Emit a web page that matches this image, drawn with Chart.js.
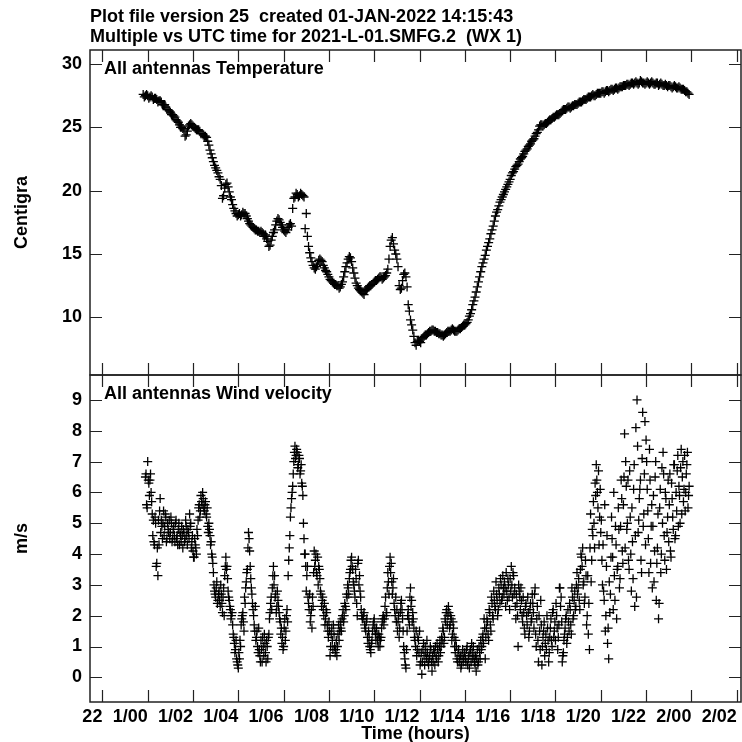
<!DOCTYPE html>
<html>
<head>
<meta charset="utf-8">
<title>WX 1 - Multiple vs UTC time</title>
<script src="https://cdn.jsdelivr.net/npm/chart.js@4.4.1/dist/chart.umd.min.js"></script>
<style>
  html, body { margin: 0; padding: 0; background: #fff; overflow: hidden; width: 742px; height: 742px; }
  .panel { position: absolute; left: 0; }
  #topBox { top: 0; }
  #botBox { top: 350px; }
</style>
</head>
<body>
<div class="panel" id="topBox"><canvas id="tempChart" width="760" height="395"></canvas></div>
<div class="panel" id="botBox"><canvas id="windChart" width="760" height="396"></canvas></div>
<script>
const titleLines = [
  'Plot file version 25  created 01-JAN-2022 14:15:43',
  'Multiple vs UTC time for 2021-L-01.SMFG.2  (WX 1)'
];

// time axis, hours from 1/00
const timeTicks = [-2, 0, 2, 4, 6, 8, 10, 12, 14, 16, 18, 20, 22, 24, 26];
const timeLabels = ['22', '1/00', '1/02', '1/04', '1/06', '1/08', '1/10', '1/12',
                    '1/14', '1/16', '1/18', '1/20', '1/22', '2/00', '2/02'];
const tempTicks = [10, 15, 20, 25, 30];
const windTicks = [0, 1, 2, 3, 4, 5, 6, 7, 8, 9];

// temperature, samples every 0.1 h from -0.2 h
const tempStartA = -0.2, tempStep = 0.1;
const tempA = [
  27.6, 27.5,
  27.5, 27.4, 27.4, 27.3, 27.2, 27.1, 27.0, 26.8, 26.6, 26.4,
  26.2, 26.0, 25.8, 25.5, 25.2, 25.0, 24.8, 24.4, 25.1, 25.3,
  25.1, 24.9, 24.8, 24.7, 24.5, 24.3, 24.2, 23.6, 22.9, 22.3,
  21.8, 21.4, 20.9, 19.4, 20.2, 20.6, 19.9, 19.3, 18.6, 18.2,
  18.1, 18.0, 18.3, 18.2, 17.8, 17.4, 17.2, 17.0, 16.9, 16.8,
  16.8, 16.6, 16.5, 16.0, 15.7, 16.4, 16.9, 17.6, 17.7, 17.3,
  16.9, 16.7, 17.1, 17.4, 18.6, 19.5, 19.7, 19.6, 19.7, 19.5,
  18.2, 15.6, 14.7, 14.1, 13.8, 14.2, 14.6, 14.4, 13.9, 13.6,
  13.2, 12.9, 12.7, 12.6, 12.5, 12.4, 12.8, 13.6, 14.3, 14.8,
  14.4, 13.5, 12.7, 12.3, 12.1, 11.9, 12.1, 12.3, 12.5, 12.6,
  12.8, 12.9, 13.1, 13.2, 13.1, 13.3, 13.8, 15.6, 16.3, 15.3,
  14.6, 12.5, 12.3, 13.4, 13.2, 11.0, 9.8, 9.0, 8.0, 8.1,
  8.1, 8.3, 8.5, 8.6, 8.8, 8.9, 9.0, 8.9, 8.8, 8.7,
  8.6, 8.6, 8.8, 8.9, 9.0, 9.0, 8.9, 9.0, 9.1, 9.3,
  9.4, 9.6, 10.1, 10.6, 11.3, 12.0, 12.8, 13.6, 14.3, 14.9,
  15.6, 16.2, 16.9, 17.6, 18.3, 18.8, 19.3, 19.7, 20.1, 20.5,
  20.9, 21.4, 21.7, 22.0, 22.3, 22.6, 22.9, 23.2, 23.5, 23.7,
  24.0, 24.3, 24.6, 25.1, 25.2, 25.2, 25.3, 25.5, 25.6, 25.8,
  25.9, 26.0, 26.1, 26.3, 26.4, 26.5, 26.6, 26.6, 26.7, 26.8,
  26.9, 27.0, 27.1, 27.2, 27.3, 27.4, 27.5, 27.5, 27.6, 27.7,
  27.7, 27.8, 27.8, 27.9, 27.9, 28.0, 28.0, 28.1, 28.1, 28.2,
  28.3, 28.3, 28.4, 28.4, 28.5, 28.5, 28.5, 28.5, 28.6, 28.5,
  28.5, 28.5, 28.5, 28.5, 28.4, 28.5, 28.4, 28.4, 28.3, 28.3,
  28.3, 28.2, 28.2, 28.2, 28.1, 28.1, 28.0, 27.9, 27.8, 27.6
];
// second set of temperature samples, every 0.1 h from -0.15 h
const tempStartB = -0.15;
const tempB = [
  27.4, 27.6,
  27.3, 27.5, 27.2, 27.3, 27.0, 27.1, 26.8, 26.8, 26.4, 26.3,
  26.0, 25.9, 25.6, 25.4, 25.0, 24.9, 24.3, 24.7, 25.2, 25.2,
  25.0, 24.8, 24.8, 24.5, 24.4, 24.3, 23.9, 23.2, 22.6, 22.0,
  21.6, 21.1, 20.4, 19.6, 20.5, 20.3, 19.5, 18.9, 18.4, 18.0,
  18.2, 18.1, 18.2, 18.0, 17.6, 17.3, 17.1, 16.9, 16.8, 16.7,
  16.7, 16.4, 16.2, 15.6, 16.1, 16.7, 17.3, 17.8, 17.5, 17.1,
  16.8, 16.9, 17.3, 17.2, 19.4, 19.8, 19.5, 19.8, 19.6, 17.0,
  16.4, 15.1, 14.4, 13.9, 14.0, 14.5, 14.5, 14.1, 13.7, 13.4,
  13.0, 12.8, 12.6, 12.5, 12.3, 12.6, 13.2, 14.0, 14.6, 14.7,
  13.9, 13.1, 12.5, 12.2, 12.0, 11.8, 12.2, 12.4, 12.5, 12.7,
  12.9, 13.0, 13.2, 13.0, 13.2, 13.5, 14.6, 16.1, 15.8, 15.0,
  14.0, 12.2, 12.9, 13.5, 12.4, 10.5, 9.4, 8.5, 7.8, 8.2,
  8.0, 8.4, 8.6, 8.7, 8.9, 9.0, 8.9, 8.8, 8.7, 8.6,
  8.5, 8.7, 8.9, 8.9, 9.1, 8.9, 8.9, 9.1, 9.2, 9.4,
  9.5, 9.8, 10.3, 11.0, 11.6, 12.4, 13.2, 14.0, 14.6, 15.3,
  15.9, 16.6, 17.2, 18.0, 18.5, 19.1, 19.5, 19.9, 20.3, 20.7,
  21.2, 21.5, 21.9, 22.1, 22.5, 22.7, 23.1, 23.3, 23.6, 23.9,
  24.1, 24.5, 24.8, 25.2, 25.1, 25.3, 25.4, 25.6, 25.7, 25.8,
  26.0, 26.0, 26.2, 26.4, 26.4, 26.6, 26.5, 26.7, 26.8, 26.8,
  27.0, 27.0, 27.2, 27.2, 27.4, 27.4, 27.6, 27.5, 27.7, 27.7,
  27.8, 27.7, 27.9, 27.8, 28.0, 27.9, 28.1, 28.0, 28.2, 28.2,
  28.3, 28.4, 28.3, 28.5, 28.4, 28.6, 28.4, 28.7, 28.5, 28.4,
  28.6, 28.4, 28.6, 28.4, 28.5, 28.3, 28.5, 28.3, 28.4, 28.2,
  28.3, 28.1, 28.3, 28.1, 28.2, 28.0, 28.0, 27.8, 27.7
];

// wind velocity, samples every 0.05 h from -0.1 h
const windStartA = -0.1, windStep = 0.05;
const windA = [
  6.5, 5.6,
  7.0, 6.3, 6.4, 6.0, 5.3, 5.1, 4.3, 5.0, 3.7, 3.3, 4.3, 5.8, 5.1, 4.5, 5.4, 4.9, 5.2, 4.5, 4.8, 5.1,
  4.7, 5.0, 4.5, 4.9, 4.4, 5.1, 4.6, 4.8, 4.3, 4.6, 4.9, 4.2, 4.7, 4.5, 4.9, 4.3, 4.7, 5.3, 5.0, 4.4,
  4.1, 3.9, 4.3, 4.0, 4.6, 5.5, 5.2, 5.9, 5.6, 5.8, 5.4, 5.7, 5.2, 4.9, 5.0, 4.6, 4.4, 3.9, 3.4, 2.8,
  2.6, 3.1, 2.5, 2.8, 2.3, 2.7, 2.1, 2.9, 3.3, 3.9, 3.6, 2.8, 2.5, 2.2, 2.0, 1.7, 1.3, 0.8, 1.2, 0.5,
  0.3, 0.6, 1.0, 1.9, 2.1, 1.5, 2.4, 3.1, 3.5, 4.7, 4.1, 3.2, 2.7, 2.2, 1.7, 2.3, 1.3, 1.0, 1.6, 0.7,
  1.2, 0.5, 1.0, 1.4, 0.8, 1.2, 0.6, 1.4, 2.1, 2.6, 2.9, 3.6, 3.3, 2.7, 2.3, 2.5, 2.1, 1.8, 1.6, 1.3,
  1.0, 1.9, 1.5, 2.2, 3.3, 4.2, 5.2, 5.8, 6.2, 7.0, 7.5, 7.2, 7.3, 6.9, 7.1, 6.7, 6.3, 5.9, 4.5, 4.0,
  2.8, 3.6, 2.4, 2.7, 2.0, 1.6, 2.3, 4.1, 3.8, 3.4, 3.9, 3.6, 3.2, 2.7, 2.5, 2.2, 2.4, 1.9, 2.1, 1.5,
  1.8, 0.7, 1.4, 1.2, 1.7, 1.0, 0.9, 0.7, 1.4, 1.2, 1.8, 1.5, 2.0, 1.8, 2.4, 2.2, 2.6, 2.9, 3.2, 3.5,
  3.9, 3.5, 3.0, 2.6, 3.2, 2.0, 3.8, 3.3, 2.6, 2.0, 1.9, 2.1, 1.6, 1.8, 1.3, 1.5, 1.0, 0.8, 1.2, 1.7,
  1.9, 1.4, 1.6, 1.2, 1.4, 1.0, 1.3, 1.8, 2.0, 1.9, 2.6, 2.1, 3.4, 2.7, 3.9, 3.7, 2.7, 3.2, 2.2, 2.6,
  2.2, 1.8, 1.3, 2.1, 2.5, 1.9, 1.0, 0.6, 0.3, 1.5, 2.2, 1.7, 2.9, 2.5, 2.1, 1.6, 1.2, 1.5, 0.9, 1.2,
  1.5, 0.5, 0.1, 0.9, 0.7, 1.0, 0.6, 0.8, 0.4, 0.7, 0.9, 0.2, 0.5, 0.8, 1.0, 0.6, 0.9, 0.7, 1.2, 1.0,
  1.2, 1.5, 1.3, 1.8, 2.2, 2.0, 2.1, 1.7, 1.9, 1.4, 1.6, 1.0, 1.2, 0.6, 0.8, 0.5, 0.7, 0.4, 0.9, 0.6,
  0.8, 0.5, 1.0, 0.6, 0.3, 0.9, 1.1, 0.6, 0.7, 0.4, 0.2, 0.9, 0.5, 0.8, 1.2, 1.0, 1.4, 1.9, 0.6, 1.6,
  1.8, 1.2, 2.1, 1.5, 2.4, 1.9, 2.5, 2.2, 2.7, 2.0, 2.9, 2.4, 3.0, 2.6, 2.9, 3.1, 2.3, 2.8, 3.2, 2.6,
  3.2, 3.6, 2.6, 3.3, 2.9, 1.9, 2.4, 1.0, 2.8, 2.2, 2.5, 1.8, 2.1, 1.4, 2.4, 1.7, 2.1, 1.5, 2.4, 1.9,
  2.4, 1.6, 2.9, 1.0, 2.3, 0.5, 1.5, 2.5, 0.4, 1.3, 1.8, 1.1, 0.9, 1.6, 0.5, 1.3, 1.9, 1.0, 2.2, 1.5,
  1.2, 2.0, 0.9, 1.7, 2.9, 2.6, 0.5, 0.8, 1.4, 1.9, 1.1, 2.2, 1.5, 2.2, 1.4, 2.6, 2.0, 2.8, 2.3, 3.4,
  2.9, 2.5, 3.5, 3.9, 4.2, 3.1, 2.6, 3.3, 2.0, 1.4, 0.9, 5.3, 3.8, 4.6, 5.0, 6.3, 6.9, 6.0, 6.7, 5.2,
  4.7, 3.8, 4.3, 2.5, 1.5, 3.6, 1.1, 0.6, 2.1, 3.9, 4.5, 2.2, 3.3, 4.9, 1.9, 3.6, 4.8, 3.2, 6.4, 4.1,
  5.6, 7.9, 7.0, 4.8, 6.4, 3.5, 5.2, 2.8, 4.4, 6.1, 2.3, 8.1, 9.0, 4.7, 5.8, 6.4, 3.4, 8.6, 5.3, 8.3,
  7.7, 6.1, 4.5, 7.4, 3.7, 5.6, 4.9, 3.1, 6.5, 2.5, 4.2, 1.9, 5.5, 3.4, 6.8, 7.3, 4.6, 6.0, 3.5, 5.2,
  4.4, 6.6, 3.9, 5.8, 4.8, 6.9, 4.6, 5.4, 7.2, 6.2, 5.0, 7.4, 6.5, 5.7, 7.2, 6.0, 6.9, 5.5, 6.2
];
// second set of wind samples, every 0.05 h from -0.075 h
const windStartB = -0.075;
const windB = [
  6.6, 5.5,
  6.4, 5.9, 6.6, 5.7, 4.6, 4.4, 5.2, 3.6, 4.2, 5.1, 5.4, 4.7, 4.9, 5.0, 4.6, 5.3, 4.4, 5.0, 4.7, 4.5,
  5.2, 4.4, 4.8, 4.6, 5.0, 4.5, 4.3, 5.0, 4.7, 4.4, 4.6, 4.8, 4.4, 5.1, 4.6, 4.8, 4.5, 4.9, 4.2, 4.6,
  3.9, 4.5, 4.2, 4.8, 5.1, 5.6, 5.4, 5.7, 6.0, 5.5, 5.6, 5.3, 5.5, 4.7, 4.8, 4.3, 4.0, 3.7, 3.0, 2.7,
  2.9, 2.4, 2.7, 2.5, 3.0, 2.4, 2.6, 2.0, 3.6, 3.5, 3.2, 2.6, 2.3, 1.9, 2.1, 1.4, 1.1, 0.9, 0.6, 0.4,
  0.8, 1.2, 1.7, 2.0, 1.8, 2.6, 2.9, 3.4, 4.2, 4.5, 3.6, 2.9, 2.4, 2.0, 1.5, 1.2, 1.5, 0.8, 0.9, 0.5,
  0.9, 1.3, 0.7, 1.1, 0.5, 1.0, 1.3, 1.9, 2.4, 2.2, 3.3, 3.0, 2.6, 2.1, 2.8, 2.3, 1.9, 1.4, 1.1, 0.9,
  1.6, 1.2, 2.0, 1.8, 3.8, 4.6, 5.5, 6.0, 6.6, 7.3, 7.1, 7.4, 6.8, 7.2, 6.6, 6.9, 6.2, 5.0, 4.0, 3.6,
  3.3, 2.6, 2.2, 1.8, 2.2, 2.6, 3.4, 3.6, 4.0, 3.3, 3.0, 3.5, 2.8, 2.3, 2.6, 2.0, 1.7, 2.2, 1.7, 1.3,
  1.5, 1.0, 1.6, 0.9, 1.4, 0.8, 1.2, 1.0, 1.7, 1.5, 1.6, 1.9, 2.2, 2.0, 2.3, 2.7, 3.0, 2.7, 3.4, 3.8,
  3.6, 3.1, 2.8, 3.5, 2.4, 3.7, 3.0, 2.8, 2.2, 1.9, 2.0, 1.7, 1.5, 1.9, 1.1, 1.3, 0.9, 1.1, 1.5, 1.8,
  1.6, 1.2, 1.4, 1.0, 1.3, 1.2, 1.6, 1.9, 1.7, 2.3, 2.0, 2.9, 3.1, 3.6, 3.4, 3.1, 2.9, 2.4, 2.0, 1.8,
  1.5, 2.0, 1.6, 2.4, 2.2, 1.5, 0.8, 0.4, 0.9, 2.0, 1.9, 2.6, 2.3, 1.8, 1.9, 1.3, 1.0, 0.7, 1.3, 0.8,
  0.4, 0.8, 0.5, 1.1, 0.4, 0.8, 1.2, 0.5, 0.6, 1.0, 0.5, 0.7, 0.9, 0.4, 0.7, 1.1, 0.5, 1.0, 0.8, 1.3,
  1.6, 1.1, 1.9, 2.1, 1.7, 2.3, 1.6, 2.0, 1.2, 1.8, 1.3, 0.8, 1.0, 0.5, 0.9, 0.6, 0.3, 0.7, 0.5, 0.8,
  0.6, 0.9, 0.4, 0.7, 0.8, 0.5, 0.8, 1.0, 0.5, 0.7, 0.6, 0.4, 1.0, 0.6, 0.9, 1.3, 1.1, 1.6, 1.3, 1.9,
  1.4, 2.2, 1.7, 2.6, 2.0, 2.8, 2.3, 3.1, 2.5, 2.2, 2.7, 3.2, 2.5, 3.3, 2.7, 2.9, 3.4, 2.5, 3.0, 2.2,
  2.8, 3.0, 3.4, 2.7, 2.3, 2.7, 2.0, 3.0, 2.6, 2.9, 2.0, 2.6, 1.6, 2.3, 2.0, 2.6, 1.3, 2.2, 1.8, 2.7,
  2.1, 2.7, 1.4, 1.9, 1.2, 2.0, 0.9, 1.7, 1.0, 1.5, 0.7, 1.4, 2.0, 1.2, 0.8, 1.6, 1.2, 2.1, 1.3, 1.8,
  2.4, 1.6, 1.3, 2.9, 2.3, 1.8, 0.7, 1.2, 1.6, 2.0, 1.3, 1.8, 2.4, 1.7, 2.9, 1.9, 2.5, 2.2, 3.0, 2.7,
  3.2, 2.2, 4.0, 3.6, 3.0, 2.4, 3.8, 1.7, 3.3, 2.4, 4.2, 3.1, 4.8, 5.7, 4.2, 5.9, 6.4, 5.5, 4.3, 6.1,
  5.1, 3.0, 2.8, 5.6, 2.0, 4.6, 1.6, 3.1, 2.7, 5.2, 3.9, 6.0, 2.5, 4.3, 3.5, 5.5, 2.9, 4.9, 5.8, 3.7,
  6.5, 4.2, 6.2, 5.0, 3.8, 6.7, 4.0, 5.5, 3.2, 6.9, 4.6, 2.6, 7.5, 5.1, 6.1, 3.8, 7.1, 4.9, 6.6, 4.3,
  7.0, 5.4, 3.4, 6.4, 4.9, 2.9, 5.9, 4.1, 7.0, 3.7, 5.3, 2.4, 6.1, 4.0, 5.0, 6.6, 3.8, 5.8, 4.7, 6.4,
  5.6, 4.1, 6.3, 5.2, 6.9, 4.5, 6.0, 6.7, 4.9, 5.9, 6.8, 5.3, 7.0, 6.1, 5.4, 6.6, 7.3, 5.9
];

const X_MIN = -2.547, X_MAX = 26.19;
const FONT = '"Liberation Sans", Arial, Helvetica, sans-serif';

Chart.defaults.font.family = FONT;
Chart.defaults.font.size = 18;
Chart.defaults.font.weight = 'bold';
Chart.defaults.color = '#000';

function toPoints(start, step, vals) {
  return vals.map(function (v, i) {
    return { x: Math.round((start + i * step) * 1000) / 1000, y: v };
  });
}

// frame, inward tick marks and panel label
function panelPlugin(label, yTicks) {
  return {
    id: 'panelBox',
    afterDatasetsDraw: function (chart) {
      var ctx = chart.ctx, a = chart.chartArea;
      var xs = chart.scales.x, ys = chart.scales.y;
      ctx.save();
      ctx.strokeStyle = '#222';
      ctx.lineWidth = 1.2;
      ctx.beginPath();
      timeTicks.forEach(function (t) {
        var px = Math.round(xs.getPixelForValue(t)) + 0.5;
        ctx.moveTo(px, a.top); ctx.lineTo(px, a.top + 12);
        ctx.moveTo(px, a.bottom); ctx.lineTo(px, a.bottom - 12);
      });
      yTicks.forEach(function (t) {
        var py = Math.round(ys.getPixelForValue(t)) + 0.5;
        ctx.moveTo(a.left, py); ctx.lineTo(a.left + 12, py);
        ctx.moveTo(a.right, py); ctx.lineTo(a.right - 12, py);
      });
      ctx.stroke();
      ctx.lineWidth = 1.5;
      ctx.strokeRect(a.left, a.top, a.right - a.left, a.bottom - a.top);
      ctx.font = 'bold 18px ' + FONT;
      ctx.fillStyle = '#000';
      ctx.textAlign = 'left';
      ctx.textBaseline = 'alphabetic';
      ctx.fillText(label, a.left + 14, a.top + 24);
      ctx.restore();
    }
  };
}

function crossSet(points) {
  return {
    data: points,
    pointStyle: 'cross',
    pointRadius: 4.5,
    borderColor: '#000',
    backgroundColor: '#000',
    borderWidth: 1.3,
    showLine: false
  };
}

function yScale(min, max, ticks, title) {
  return {
    type: 'linear',
    position: 'left',
    min: min,
    max: max,
    afterBuildTicks: function (s) { s.ticks = ticks.map(function (v) { return { value: v }; }); },
    afterFit: function (s) { s.width = 90; },
    grid: { display: false, drawTicks: false },
    border: { display: false },
    ticks: { padding: 8 },
    title: { display: true, text: title, padding: { top: 11, bottom: 0 } }
  };
}

// top panel: temperature
new Chart(document.getElementById('tempChart'), {
  type: 'scatter',
  data: {
    datasets: [
      crossSet(toPoints(tempStartA, tempStep, tempA)),
      crossSet(toPoints(tempStartB, tempStep, tempB))
    ]
  },
  options: {
    responsive: false,
    animation: false,
    events: [],
    layout: { padding: { left: 0, right: 19, top: 0, bottom: 20 } },
    plugins: {
      legend: { display: false },
      tooltip: { enabled: false },
      title: {
        display: true,
        text: titleLines,
        align: 'start',
        fullSize: false,
        color: '#000',
        font: { size: 18, weight: 'bold', lineHeight: 20 / 18 },
        padding: { top: 7, bottom: 3 }
      }
    },
    scales: {
      x: { type: 'linear', min: X_MIN, max: X_MAX, display: false },
      y: yScale(5.45, 31.105, tempTicks, 'Centigra')
    }
  },
  plugins: [panelPlugin('All antennas Temperature', tempTicks)]
});

// bottom panel: wind velocity
new Chart(document.getElementById('windChart'), {
  type: 'scatter',
  data: {
    datasets: [
      crossSet(toPoints(windStartA, windStep, windA)),
      crossSet(toPoints(windStartB, windStep, windB))
    ]
  },
  options: {
    responsive: false,
    animation: false,
    events: [],
    layout: { padding: { left: 0, right: 19, top: 25, bottom: 1 } },
    plugins: {
      legend: { display: false },
      tooltip: { enabled: false }
    },
    scales: {
      x: {
        type: 'linear',
        min: X_MIN,
        max: X_MAX,
        afterBuildTicks: function (s) { s.ticks = timeTicks.map(function (v) { return { value: v }; }); },
        afterFit: function (s) { s.height = 43; },
        grid: { display: false, drawTicks: false },
        border: { display: false },
        ticks: {
          padding: 4,
          align: 'end',
          maxRotation: 0,
          autoSkip: false,
          callback: function (v, i) { return timeLabels[i]; }
        },
        title: { display: true, text: 'Time (hours)', padding: { top: 0, bottom: 0 } }
      },
      y: yScale(-0.80, 9.81, windTicks, 'm/s')
    }
  },
  plugins: [panelPlugin('All antennas Wind velocity', windTicks)]
});
</script>
</body>
</html>
